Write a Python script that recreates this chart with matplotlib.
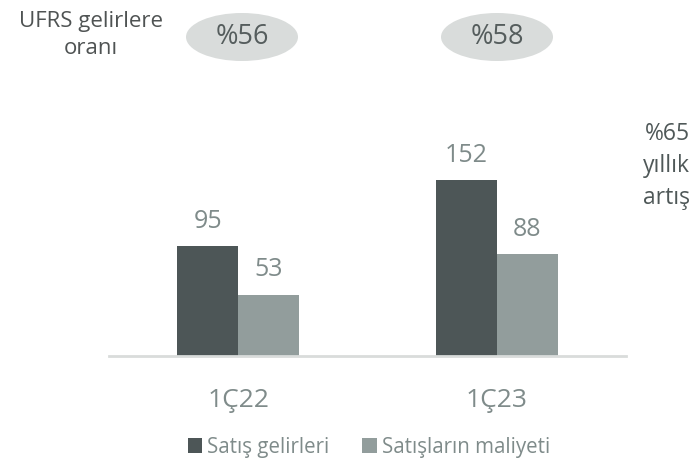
import matplotlib.pyplot as plt
import numpy as np
from matplotlib.patches import Ellipse

plt.rcParams['font.family'] = ['Open Sans', 'DejaVu Sans']

categories = ['1Ç22', '1Ç23']
series_names = ['Satış gelirleri', 'Satışların maliyeti']
sales = [95, 152]
cost = [53, 88]
ratios = ['%56', '%58']

W, H = 695, 467
fig = plt.figure(figsize=(W / 100, H / 100), dpi=100)


def fx(px):
    return px / W


def fy(py):
    return 1 - py / H


# axes: baseline at y=356 px, 1.156 px per unit
ymax = 160
ax = fig.add_axes([fx(109), fy(356), fx(626) - fx(109), ymax * 1.156 / H])
x = np.arange(len(categories))
width = 0.236
dark, light = '#4d5657', '#929d9c'
b1 = ax.bar(x - width / 2, sales, width, color=dark, label=series_names[0])
b2 = ax.bar(x + width / 2, cost, width, color=light, label=series_names[1])
ax.set_xlim(-0.5, 1.5)
ax.set_ylim(0, ymax)
for s in ['top', 'right', 'left']:
    ax.spines[s].set_visible(False)
ax.spines['bottom'].set_color('#d9dcdb')
ax.spines['bottom'].set_linewidth(2)
ax.set_yticks([])
ax.set_xticks(x)
ax.set_xticklabels(categories, fontsize=19, color='#7f8b8a')
ax.tick_params(axis='x', length=0, pad=23)

num_color = '#7f8b8a'
for rects in (b1, b2):
    for r in rects:
        ax.annotate(str(int(r.get_height())),
                    xy=(r.get_x() + r.get_width() / 2, r.get_height()),
                    xytext=(0, 9), textcoords='offset points',
                    ha='center', va='bottom', fontsize=18, color=num_color,
                    annotation_clip=False)

# ratio bubbles above each group
for cx, txt in zip([242, 497], ratios):
    e = Ellipse((fx(cx), fy(37)), fx(112), 48 / H, transform=fig.transFigure,
                facecolor='#d9dcdb', edgecolor='none')
    fig.patches.append(e)
    fig.text(fx(cx), fy(37), txt, ha='center', va='center', fontsize=19.5,
             color='#555d5d')

fig.text(fx(91), fy(35), 'UFRS gelirlere\noranı', ha='center', va='center',
         fontsize=16, color='#4f5353', linespacing=1.35)

fig.text(fx(690), fy(166), '%65\nyıllık\nartış', ha='right', va='center',
         fontsize=16.5, color='#4f5858', linespacing=1.42, multialignment='right')

fig.legend(handles=[b1, b2], loc='center', bbox_to_anchor=(fx(369), fy(447)),
           ncol=2, frameon=False, fontsize=14.8, handlelength=0.7,
           handleheight=0.7, handletextpad=0.25, columnspacing=1.6,
           labelcolor=num_color)

fig.savefig('out.png', dpi=100)
